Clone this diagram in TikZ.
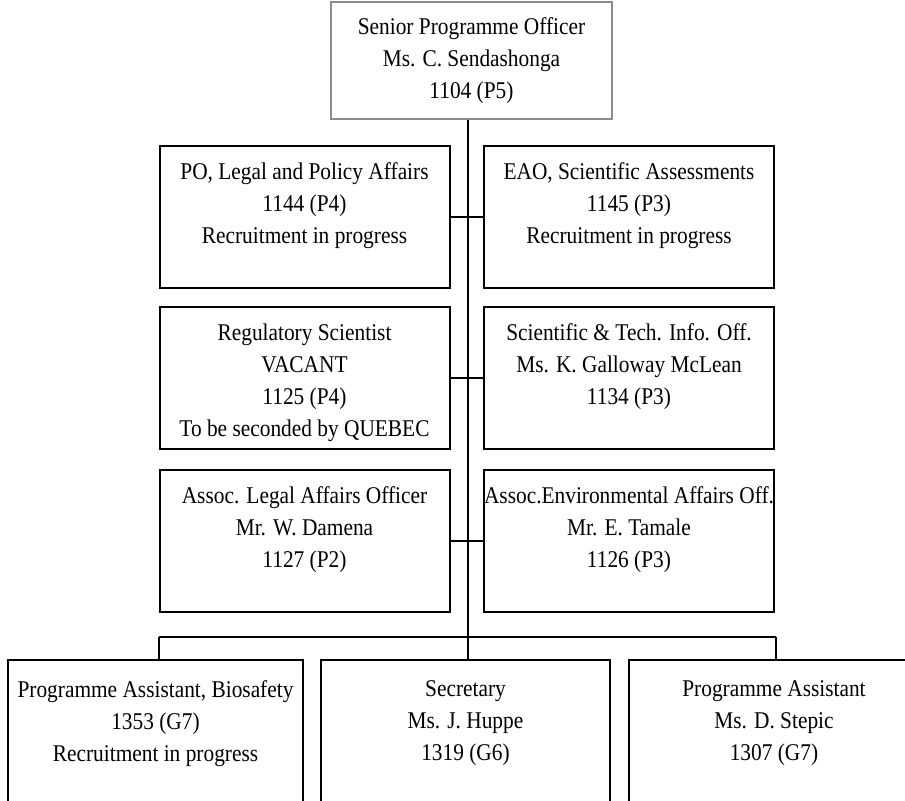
\documentclass[tikz,border=0pt]{standalone}
\usepackage{fontspec}
\setmainfont{Liberation Serif}[FakeStretch=0.89]

\begin{document}
\begin{tikzpicture}[x=0.5pt,y=-0.5pt,
    box/.style={draw, line width=1pt, minimum width=145pt, minimum height=71pt, inner sep=0pt},
    boxtext/.style={anchor=north, align=center, inner sep=0pt, yshift=-8.5pt, font=\fontsize{12}{16}\selectfont},
    link/.style={line width=0.8pt}]
    \useasboundingbox (0,0) rectangle (905,801);
    \clip (0,0) rectangle (905,801);

    % Hoofd van de eenheid
    \node[box, draw=black!45, minimum width=140.5pt, minimum height=58.5pt, align=center,
          font=\fontsize{12}{16}\selectfont] (SPO) at (471.5,61)
          {Senior Programme Officer\\Ms. C. Sendashonga\\1104 (P5)};

    % Stam en verdeellijn
    \coordinate (B) at (468,637);  % knooppunt op de verdeellijn
    \coordinate (BL) at (159,637); % linker uiteinde
    \coordinate (BR) at (776,637); % rechter uiteinde

    % Eerste rij
    \node[box] (PO) at (304.5,217) {};
    \node[boxtext] (POt) at (PO.north) {PO, Legal and Policy Affairs\\1144 (P4)\\Recruitment in progress};
    \node[box] (EAO) at (629,217) {};
    \node[boxtext] (EAOt) at (EAO.north) {EAO, Scientific Assessments\\1145 (P3)\\Recruitment in progress};

    % Tweede rij
    \node[box] (RS) at (304.5,378) {};
    \node[boxtext] (RSt) at (RS.north) {Regulatory Scientist\\VACANT\\1125 (P4)\\To be seconded by QUEBEC};
    \node[box] (STI) at (629,378) {};
    \node[boxtext] (STIt) at (STI.north) {Scientific \& Tech. Info. Off.\\Ms. K. Galloway McLean\\1134 (P3)};

    % Derde rij
    \node[box] (ALO) at (304.5,541) {};
    \node[boxtext] (ALOt) at (ALO.north) {Assoc. Legal Affairs Officer\\Mr. W. Damena\\1127 (P2)};
    \node[box] (AEO) at (629,541) {};
    \node[boxtext] (AEOt) at (AEO.north) {Assoc.Environmental Affairs Off.\\Mr. E. Tamale\\1126 (P3)};

    % Ondersteunend personeel (onderaan afgesneden)
    \node[box, minimum width=147.5pt, minimum height=80pt] (PAB) at (155.5,740) {};
    \node[boxtext, yshift=-2pt] (PABt) at (PAB.north) {Programme Assistant, Biosafety\\1353 (G7)\\Recruitment in progress};
    \node[box, minimum width=144.5pt, minimum height=80pt] (SEC) at (465.5,740) {};
    \node[boxtext, yshift=-2pt] (SECt) at (SEC.north) {Secretary\\Ms. J. Huppe\\1319 (G6)};
    \node[box, minimum width=145pt, minimum height=80pt] (PA) at (774,740) {};
    \node[boxtext, yshift=-2pt] (PAt) at (PA.north) {Programme Assistant\\Ms. D. Stepic\\1307 (G7)};

    % Verbindingslijnen
    \draw[line width=1pt] (SPO.south -| B) -- (B);
    \draw[link] (PO.east) -- (EAO.west);
    \draw[link] (RS.east) -- (STI.west);
    \draw[link] (ALO.east) -- (AEO.west);
    \draw[link] (BL) -- (BR);
    \draw[link] (BL) -- (BL |- PAB.north);
    \draw[link] (B) -- (B |- SEC.north);
    \draw[link] (BR) -- (BR |- PA.north);

\end{tikzpicture}
\end{document}
